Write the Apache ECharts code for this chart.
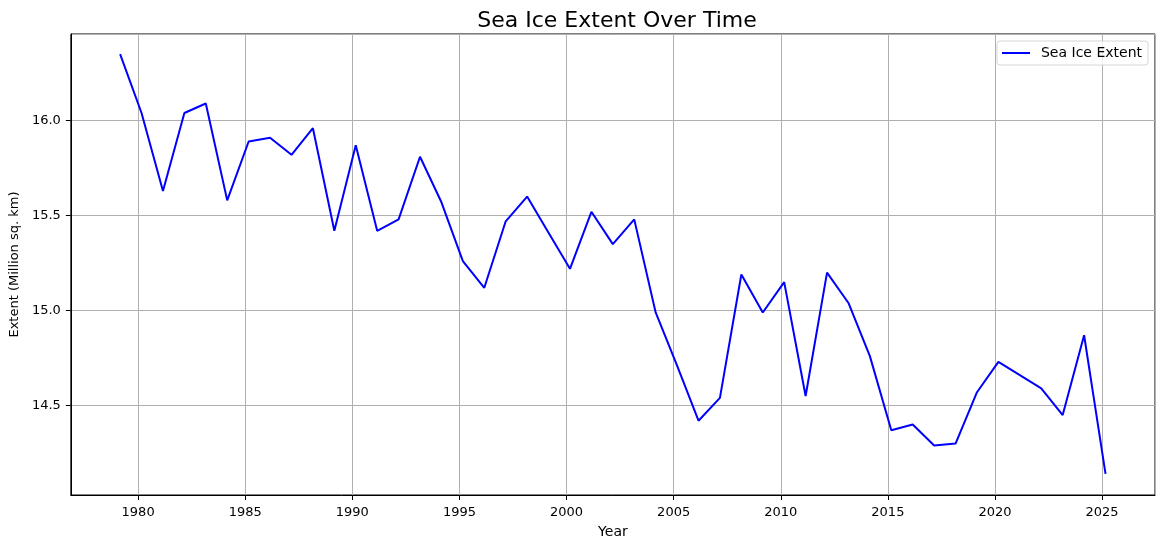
<!DOCTYPE html>
<html>
<head>
<meta charset="utf-8">
<script src="https://cdn.jsdelivr.net/npm/echarts@6/dist/echarts.min.js"></script>
<style>
  html, body { margin: 0; padding: 0; background: #fff; }
  #chart { width: 1165px; height: 549px; }
</style>
</head>
<body>
<div id="chart"></div>
<script>
// 年份 (每年三月的最大值)
var years = [1979, 1980, 1981, 1982, 1983, 1984, 1985, 1986, 1987, 1988,
    1989, 1990, 1991, 1992, 1993, 1994, 1995, 1996, 1997, 1998,
    1999, 2000, 2001, 2002, 2003, 2004, 2005, 2006, 2007, 2008,
    2009, 2010, 2011, 2012, 2013, 2014, 2015, 2016, 2017, 2018,
    2019, 2020, 2021, 2022, 2023, 2024, 2025];
// 海冰面积 (百万平方公里)
var extent = [16.35, 16.04, 15.63, 16.04, 16.09, 15.58, 15.89, 15.91, 15.82, 15.96,
    15.42, 15.87, 15.42, 15.48, 15.81, 15.57, 15.26, 15.12, 15.47, 15.60,
    15.41, 15.22, 15.52, 15.35, 15.48, 14.99, 14.71, 14.42, 14.54, 15.19,
    14.99, 15.15, 14.55, 15.20, 15.04, 14.76, 14.37, 14.40, 14.29, 14.30,
    14.57, 14.73, 14.66, 14.59, 14.45, 14.87, 14.14];
var seriesName = "Sea Ice Extent";
var monthOffset = 0.16; // 三月初

var chart = echarts.init(document.getElementById("chart"));

var points = [];
for (var i = 0; i < years.length; i++) {
    points.push([years[i] + monthOffset, extent[i]]);
}

var fontFamily = "DejaVu Sans";

var option = {
    backgroundColor: "#fff",
    animation: false,
    textStyle: { fontFamily: fontFamily },
    title: {
        text: "Sea Ice Extent Over Time",
        left: 612,
        textAlign: "center",
        top: 5,
        textStyle: { fontFamily: fontFamily, fontSize: 22, fontWeight: "normal", color: "#000" }
    },
    legend: {
        right: 17,
        top: 41,
        orient: "vertical",
        icon: "rect",
        padding: [5, 6, 5, 5],
        itemWidth: 28,
        itemHeight: 2,
        borderColor: "#d6d6d6",
        borderWidth: 1,
        borderRadius: 3,
        backgroundColor: "rgba(255,255,255,0.8)",
        textStyle: { fontFamily: fontFamily, fontSize: 14, color: "#000", padding: [0, 0, 0, 6] },
        data: [seriesName]
    },
    grid: {
        left: 70,
        right: 10,
        top: 34,
        bottom: 54,
        show: true,
        borderColor: "#000",
        borderWidth: 1
    },
    xAxis: {
        type: "value",
        min: 1976.86,
        max: 2027.47,
        splitNumber: 10,
        minInterval: 5,
        maxInterval: 5,
        name: "Year",
        nameLocation: "middle",
        nameGap: 30,
        nameTextStyle: { fontFamily: fontFamily, fontSize: 14, color: "#000" },
        axisLine: { show: true, lineStyle: { color: "#000", width: 1 } },
        axisTick: { show: true, inside: false, length: 5, lineStyle: { color: "#000" } },
        axisLabel: {
            show: true,
            margin: 11,
            showMinLabel: false,
            showMaxLabel: false,
            fontSize: 13,
            color: "#000",
            fontFamily: fontFamily,
            formatter: function(v) { return String(Math.round(v)); }
        },
        splitLine: { show: true, lineStyle: { color: "#b0b0b0", width: 1 } }
    },
    yAxis: {
        type: "value",
        min: 14.029,
        max: 16.456,
        splitNumber: 5,
        minInterval: 0.5,
        maxInterval: 0.5,
        name: "Extent (Million sq. km)",
        nameLocation: "middle",
        nameGap: 49,
        nameTextStyle: { fontFamily: fontFamily, fontSize: 13, color: "#000" },
        axisLine: { show: true, lineStyle: { color: "#000", width: 1 } },
        axisTick: { show: true, inside: false, length: 5, lineStyle: { color: "#000" } },
        axisLabel: {
            show: true,
            margin: 10,
            showMinLabel: false,
            showMaxLabel: false,
            fontSize: 13,
            color: "#000",
            fontFamily: fontFamily,
            formatter: function(v) { return v.toFixed(1); }
        },
        splitLine: { show: true, lineStyle: { color: "#b0b0b0", width: 1 } }
    },
    series: [{
        name: seriesName,
        type: "line",
        data: points,
        symbol: "none",
        showSymbol: false,
        color: "#0000ff",
        lineStyle: { color: "#0000ff", width: 2 }
    }]
};
chart.setOption(option);
</script>
</body>
</html>
